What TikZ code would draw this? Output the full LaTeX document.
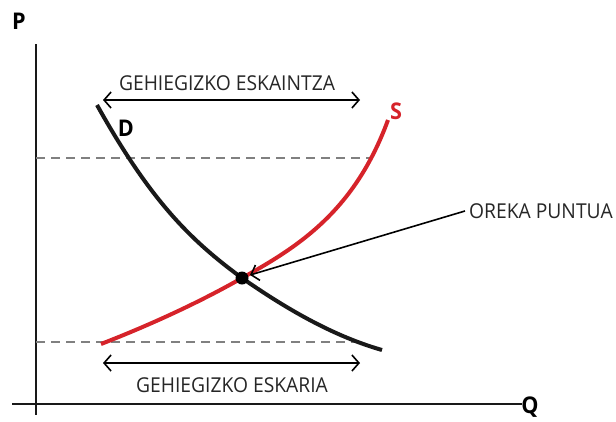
\documentclass[tikz,border=0pt]{standalone}
\usepackage{fontspec}
\setmainfont{Open Sans}[FakeStretch=0.94]
\usetikzlibrary{arrows.meta,positioning}

\definecolor{supred}{RGB}{214,35,42}
\definecolor{dashgray}{RGB}{128,128,128}

\tikzset{
  axisline/.style={line width=1.6pt,black!90},
  curveline/.style={line width=4pt},
  guide/.style={dashgray,line width=1.3pt,dash pattern=on 9pt off 6pt},
  span/.style={line width=1.6pt,{Straight Barb[length=7pt,width=16pt]}-{Straight Barb[length=7pt,width=16pt]}},
  axlabel/.style={font=\fontsize{23}{25}\selectfont\bfseries,inner sep=0pt},
  txt/.style={font=\fontsize{20.5}{22}\selectfont,text=black!85,inner sep=0pt},
}

\begin{document}
\begin{tikzpicture}[x=1pt,y=-1pt,>=Stealth]
  \useasboundingbox (0,0) rectangle (616,421);

  % axes
  \coordinate (ytop) at (36,44);
  \coordinate (ybot) at (36,415);
  \coordinate (xl) at (12,404);
  \coordinate (xr) at (522,404);
  \draw[axisline] (ytop) -- (ybot);
  \draw[axisline] (xl) -- (xr);
  \node[axlabel] (p) at (19,21) {P};
  \node[axlabel,anchor=south] (q) at (530,418) {Q};

  % equilibrium
  \coordinate (E) at (242,278);

  % price guides
  \coordinate (hi0) at (36,158);
  \coordinate (hi1) at (370,158);
  \coordinate (lo0) at (36,342);
  \coordinate (lo1) at (356,342);
  \draw[guide] (hi0) -- (hi1);
  \draw[guide] (lo0) -- (lo1);

  % demand and supply
  \draw[curveline,black!90] (97,105) .. controls (150,200) and (190,240) .. (E)
        .. controls (295,315) and (340,338) .. (382,350);
  \draw[curveline,supred] (101,344) .. controls (150,325) and (200,302) .. (E)
        .. controls (300,246) and (355,210) .. (388,120);
  \node[axlabel] (d) at (126,128) {D};
  \node[axlabel,text=supred] (s) at (396,111) {S};

  \fill[black] (E) circle (6.5pt);

  % surplus / shortage
  \coordinate (ta) at (103,100);
  \coordinate (tb) at (360,100);
  \draw[span] (ta) -- (tb);
  \node[txt] (surplus) at (227,83.5) {GEHIEGIZKO ESKAINTZA};
  \coordinate (ba) at (103,363);
  \coordinate (bb) at (360,363);
  \draw[span] (ba) -- (bb);
  \node[txt] (shortage) at (232,385) {GEHIEGIZKO ESKARIA};

  % label
  \node[txt,anchor=west] (eq) at (469,211) {OREKA PUNTUA};
  \draw[line width=1.6pt,-{Straight Barb[length=7pt,width=16pt]}] ([xshift=-4pt]eq.west) -- ([shift={(8,-3)}]E);
\end{tikzpicture}
\end{document}
